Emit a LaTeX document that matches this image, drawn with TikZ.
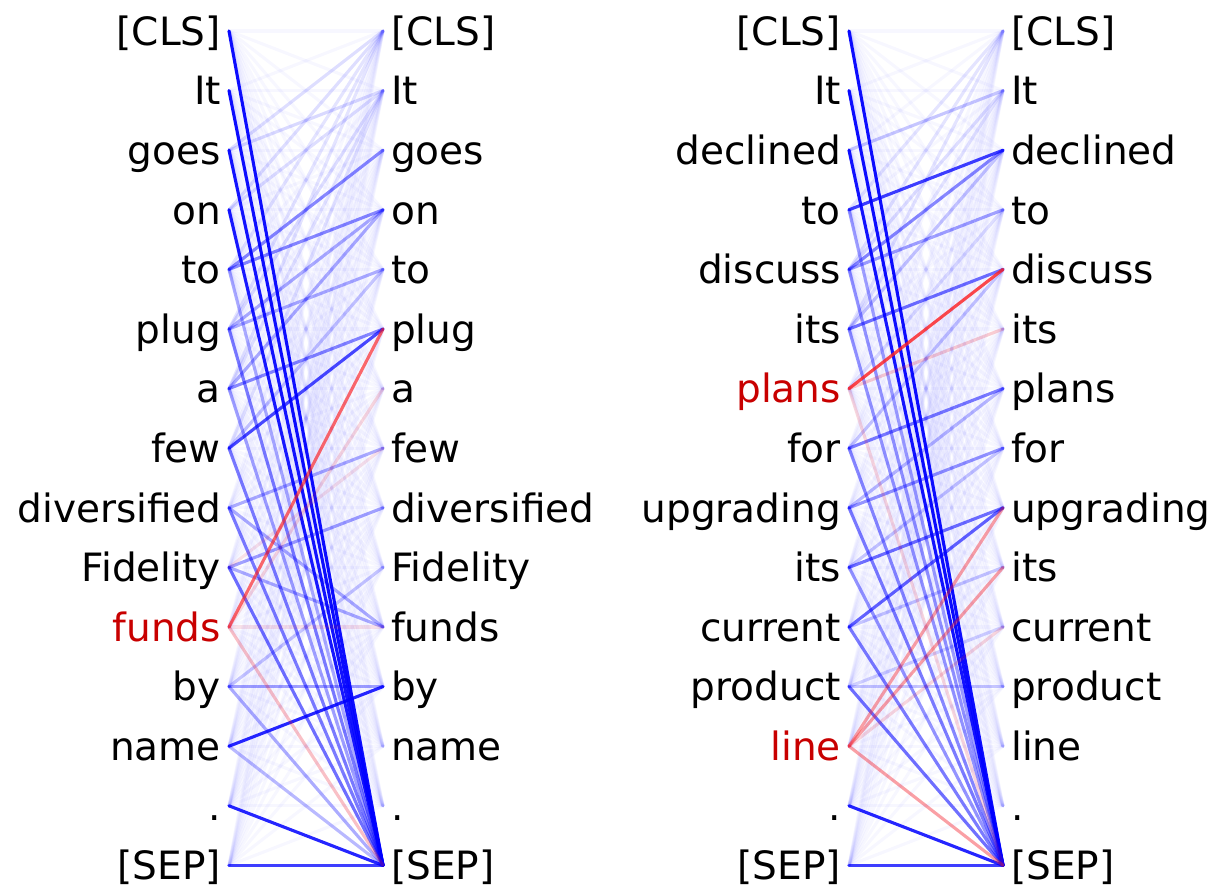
\documentclass[tikz,border=0pt]{standalone}
\usepackage{fontspec}
\setmainfont{DejaVu Sans}
\usetikzlibrary{positioning}

\definecolor{attblue}{RGB}{0,0,255}
\definecolor{attred}{RGB}{255,30,30}
\definecolor{tokred}{RGB}{200,0,0}

\tikzset{
  tok/.style={font=\fontsize{39}{47}\selectfont, inner xsep=0pt, inner ysep=0pt,
    text height=28.5pt, text depth=0pt},
  attpos/.style={attblue, line width=3.1pt, line cap=round},
  attneg/.style={attred, line width=3.1pt, line cap=round},
}

\begin{document}
\begin{tikzpicture}[x=1pt, y=-1pt]
    \useasboundingbox (0,0) rectangle (1217,888);

    % Tokens, first sentence
    \foreach \t/\c [count=\k from 0] in {{[CLS]}/black, It/black, goes/black, on/black, to/black,
        plug/black, a/black, few/black, diversified/black, Fidelity/black, funds/tokred,
        by/black, name/black, ./black, {[SEP]}/black} {
      \node[tok, text=\c, anchor=east] (a\k) at (221,{31+59.6*\k}) {\t};
      \node[tok, anchor=west] (b\k) at (391,{31+59.6*\k}) {\t};
    }

    % Tokens, second sentence
    \foreach \t/\c [count=\k from 0] in {{[CLS]}/black, It/black, declined/black, to/black,
        discuss/black, its/black, plans/tokred, for/black, upgrading/black, its/black,
        current/black, product/black, line/tokred, ./black, {[SEP]}/black} {
      \node[tok, text=\c, anchor=east] (c\k) at (841,{31+59.6*\k}) {\t};
      \node[tok, anchor=west] (d\k) at (1011,{31+59.6*\k}) {\t};
    }

    % Faint background weights
    \foreach \i in {0,...,14} {
      \foreach \j in {0,...,14} {
        \draw[attpos, opacity=0.03] ([xshift=8pt]a\i.east) -- ([xshift=-8pt]b\j.west);
        \draw[attpos, opacity=0.03] ([xshift=8pt]c\i.east) -- ([xshift=-8pt]d\j.west);
      }
    }

    % Attention weights, first sentence
    \foreach \i/\j/\w in {2/0/0.1, 3/0/0.1, 4/0/0.08, 5/0/0.08, 6/0/0.08, 2/1/0.12, 3/1/0.1,
        5/1/0.1, 6/1/0.08, 7/1/0.08, 4/2/0.45, 4/3/0.45, 5/3/0.3, 6/3/0.3, 5/4/0.3,
        7/4/0.2, 6/5/0.45, 7/5/0.7, 8/7/0.3, 9/8/0.35, 8/10/0.3, 9/10/0.3, 11/9/0.2,
        11/11/0.35, 12/11/0.85, 4/14/0.3, 5/14/0.5, 6/14/0.35, 7/14/0.5, 8/14/0.5,
        9/14/0.55, 11/14/0.3, 12/14/0.25, 0/14/0.95, 1/14/0.95, 2/14/0.92, 3/14/0.9,
        13/14/0.85, 14/14/0.75} {
      \draw[attpos, opacity=\w] ([xshift=8pt]a\i.east) -- ([xshift=-8pt]b\j.west);
    }
    \foreach \i/\j/\w in {10/5/0.65, 10/6/0.15, 10/10/0.1, 10/14/0.25, 9/7/0.1} {
      \draw[attneg, opacity=\w] ([xshift=8pt]a\i.east) -- ([xshift=-8pt]b\j.west);
    }

    % Attention weights, second sentence
    \foreach \i/\j/\w in {3/0/0.08, 4/0/0.08, 5/0/0.08, 2/1/0.2, 4/1/0.1, 5/1/0.08,
        3/2/0.75, 4/2/0.45, 5/2/0.2, 4/3/0.35, 6/3/0.1, 5/4/0.55, 7/4/0.2, 7/6/0.5,
        8/6/0.25, 8/7/0.4, 9/7/0.2, 9/8/0.55, 10/8/0.6, 10/9/0.2, 11/10/0.15, 11/11/0.2,
        3/14/0.35, 4/14/0.4, 5/14/0.4, 7/14/0.45, 8/14/0.5, 9/14/0.4, 10/14/0.5,
        11/14/0.55, 0/14/0.95, 1/14/0.95, 2/14/0.92, 13/14/0.85, 14/14/0.75} {
      \draw[attpos, opacity=\w] ([xshift=8pt]c\i.east) -- ([xshift=-8pt]d\j.west);
    }
    \foreach \i/\j/\w in {6/4/0.8, 6/5/0.2, 6/14/0.15, 12/8/0.4, 12/9/0.4, 12/10/0.15,
        12/14/0.4} {
      \draw[attneg, opacity=\w] ([xshift=8pt]c\i.east) -- ([xshift=-8pt]d\j.west);
    }
\end{tikzpicture}
\end{document}
